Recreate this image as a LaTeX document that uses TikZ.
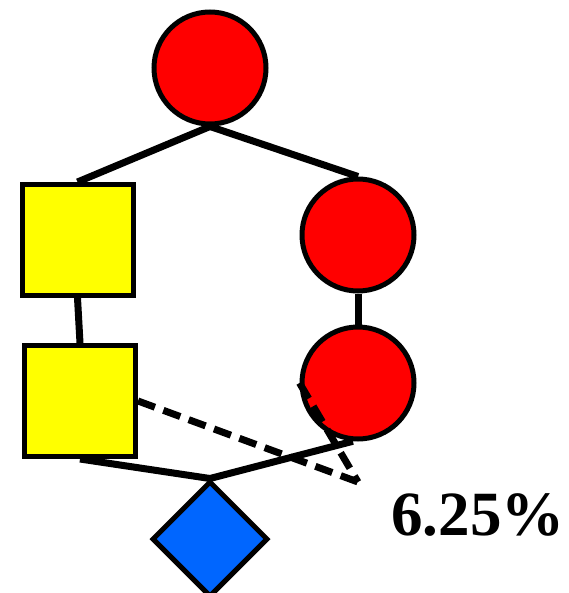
\documentclass[tikz,border=0pt]{standalone}
\usepackage{fontspec}
\setmainfont{Liberation Serif}
\usetikzlibrary{shapes.geometric}
\definecolor{galred}{RGB}{255,0,0}
\definecolor{galyellow}{RGB}{255,255,0}
\definecolor{glcblue}{RGB}{0,102,255}
\begin{document}
\begin{tikzpicture}[x=1pt,y=-1pt,
  residue/.style={draw=black,line width=5pt,inner sep=0pt},
  hexose/.style={residue,circle,fill=galred,minimum size=112pt},
  hexnac/.style={residue,rectangle,fill=galyellow,minimum size=111pt},
  hexa/.style={residue,diamond,fill=glcblue,minimum size=116pt},
  bond/.style={line width=7pt},
  partial/.style={line width=7pt,dash pattern=on 18pt off 9pt}]
\useasboundingbox (0,0) rectangle (568,593);
% residues
\node[hexose] (t)  at (210,68)  {};
\node[hexnac] (s1) at (77.5,240) {};
\node[hexose] (c2) at (358,235) {};
\node[hexnac] (s2) at (80,401)  {};
\node[hexose] (c3) at (358,383) {};
\node[hexa]   (d)  at (210,539) {};
\coordinate (m) at (358,482);
% linkages
\draw[bond] (t.south) -- (s1.north);
\draw[bond] (t.south) -- (c2.north);
\draw[bond] (s1.south) -- (s2.north);
\draw[bond] (c2.south) -- (c3.north);
\draw[bond] (s2.south) -- (d.north);
\draw[bond] (d.north) -- (c3.-95);
\draw[partial] (s2.east) -- (m);
\draw[partial] (c3.west) -- (m);
% label
\node[font=\bfseries\fontsize{63}{72}\selectfont,anchor=base] (p) at (478,535) {6.25\%};
\end{tikzpicture}
\end{document}
